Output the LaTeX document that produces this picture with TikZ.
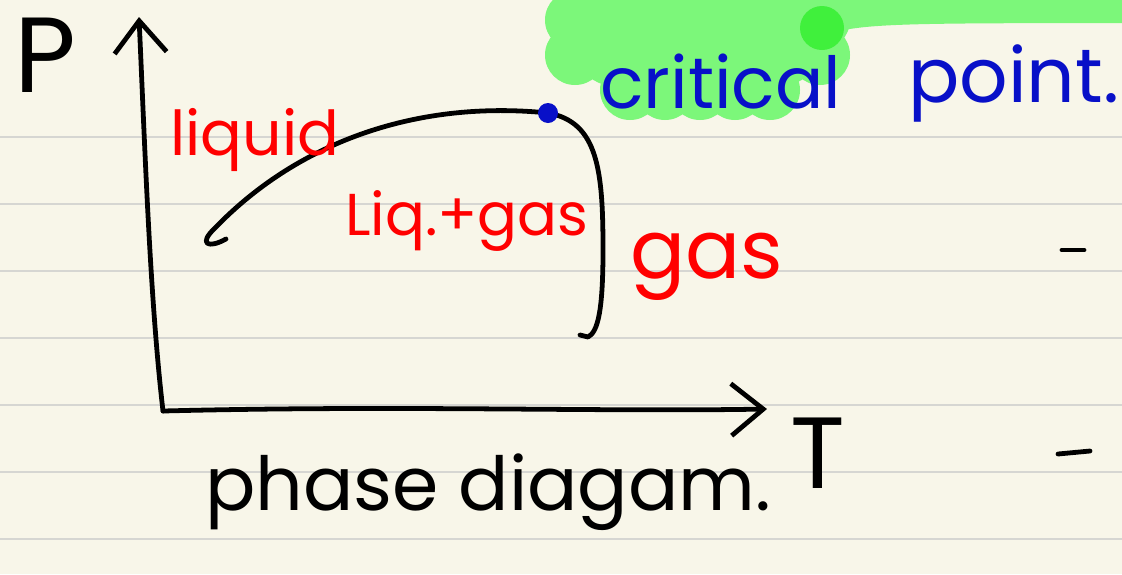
\documentclass[tikz,border=0pt]{standalone}
\usepackage{fontspec}
\setmainfont{Poppins}
\usetikzlibrary{arrows.meta}
\definecolor{papier}{RGB}{248,246,233}
\definecolor{regle}{RGB}{214,214,210}
\definecolor{surligne}{RGB}{124,247,122}
\definecolor{surfonce}{RGB}{64,240,60}
\definecolor{stylorouge}{RGB}{255,0,0}
\definecolor{stylobleu}{RGB}{8,16,200}

\begin{document}
\begin{tikzpicture}[x=0.025cm,y=-0.025cm,
    trait/.style={line width=3.4pt, line cap=round, line join=round},
    axe/.style={trait, -{Straight Barb[length=8mm,width=13mm]}},
    rouge/.style={text=stylorouge, inner sep=0pt},
    bleu/.style={text=stylobleu, inner sep=0pt},
    noir/.style={text=black, inner sep=0pt}]
  \useasboundingbox (0,0) rectangle (1122,574);
  \clip (0,0) rectangle (1122,574);
  % papier ligne
  \fill[papier] (0,0) rectangle (1122,574);
  \foreach \ligne in {137,204,...,539}
    \draw[regle, line width=1.2pt] (0,\ligne) -- (1122,\ligne);
  % surligneur vert
  \foreach \cx in {575,610,...,820}
    \fill[surligne] (\cx,20) circle (30) (\cx,55) circle (30);
  \foreach \cx in {630,665,...,785}
    \fill[surligne] (\cx,90) circle (30);
  \draw[surligne, line width=30pt, line cap=round] (795,24) .. controls (850,2) .. (1140,2);
  \fill[surfonce] (822,28) circle (22);
  % axes
  \coordinate (origine) at (163,411);
  \coordinate (haut) at (139,17);
  \coordinate (droite) at (767,409);
  \draw[axe] (origine) .. controls (150,300) and (145,150) .. (haut);
  \draw[axe] (origine) .. controls (400,405) and (600,412) .. (droite);
  % courbe
  \coordinate (critique) at (548,113);
  \draw[trait] (226,239) .. controls (208,249) and (198,244) .. (215,228)
    .. controls (300,140) and (420,100) .. (critique)
    .. controls (598,122) and (603,170) .. (603,250)
    .. controls (603,310) and (598,332) .. (588,337) -- (580,335);
  \fill[stylobleu] (critique) circle (10);
  % tirets
  \draw[trait] (1062,250) -- (1084,250);
  \draw[trait] (1058,454) -- (1090,451);
  % textes
  \node[noir, anchor=base west, font=\fontsize{76}{80}\selectfont] (axeP) at (14,92) {P};
  \node[noir, anchor=base west, font=\fontsize{72}{76}\selectfont] (axeT) at (790,488) {T};
  \node[rouge, anchor=base west, font=\fontsize{44}{48}\selectfont] (liquide) at (170,155) {liquid};
  \node[rouge, anchor=base west, font=\fontsize{42}{46}\selectfont] (melange) at (345,235) {Liq.+gas};
  \node[rouge, anchor=base west, font=\fontsize{58}{62}\selectfont] (gaz) at (630,278) {gas};
  \node[bleu, anchor=base west, font=\fontsize{51}{56}\selectfont] (pointcrit) at (600,108) {critical};
  \node[bleu, anchor=base west, font=\fontsize{54}{58}\selectfont] (pointmot) at (908,102) {point.};
  \node[noir, anchor=base west, font=\fontsize{53}{58}\selectfont] (titre) at (205,510) {phase diagam.};
\end{tikzpicture}
\end{document}
